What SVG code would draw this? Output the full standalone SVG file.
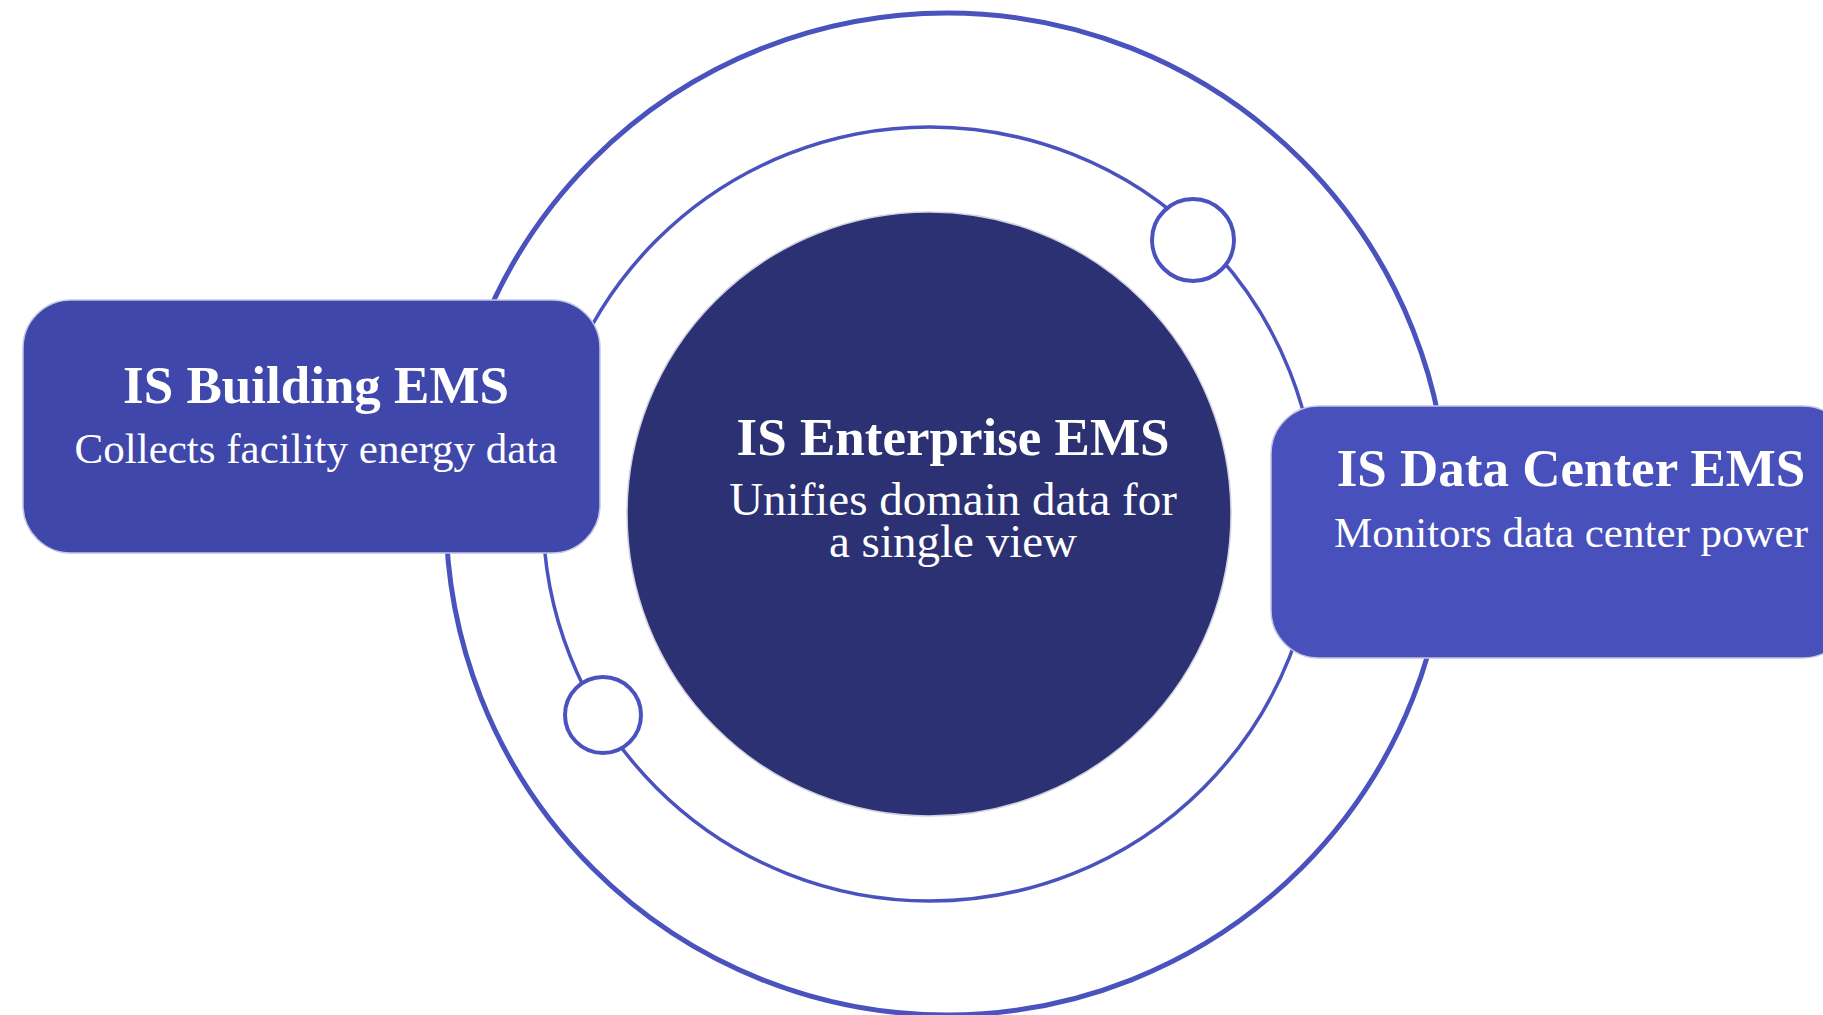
<svg xmlns="http://www.w3.org/2000/svg" width="1823" height="1015" viewBox="0 0 1823 1015">
<style>
.ring{fill:none;stroke:#4A52BE}
.dot{fill:#FFFFFF;stroke:#4A52BE;stroke-width:4}
.box{stroke:#C3C5E4;stroke-width:1.5}
.t{font-family:"Liberation Serif","Times New Roman",serif;fill:#FFFFFF;text-anchor:middle}
.h{font-weight:bold;font-size:53px}
.s{font-size:43px}
</style>
<rect width="1823" height="1015" fill="#FFFFFF"/>
<g id="connectors">
<circle class="ring" cx="947" cy="514" r="501" stroke-width="5"/>
<circle class="ring" cx="930" cy="514" r="387" stroke-width="3.5"/>
</g>
<g id="enterprise">
<circle cx="929" cy="514" r="302" fill="#2C3173" stroke="#D0D1E0" stroke-width="1.5"/>
<text class="t h" x="953" y="455">IS Enterprise EMS</text>
<text class="t s" x="953" y="515" style="font-size:47px">Unifies domain data for</text>
<text class="t s" x="953" y="557" style="font-size:47px">a single view</text>
</g>
<g id="dot1"><circle class="dot" cx="1193" cy="240" r="41"/></g>
<g id="dot2"><circle class="dot" cx="603" cy="715" r="38"/></g>
<g id="building">
<rect class="box" x="23" y="300" width="577" height="253" rx="48" fill="#3F48AA"/>
<text class="t h" x="316" y="403">IS Building EMS</text>
<text class="t s" x="316" y="463">Collects facility energy data</text>
</g>
<g id="datacenter">
<rect class="box" x="1271" y="406" width="580" height="252" rx="48" fill="#4750BB"/>
<text class="t h" x="1571" y="486">IS Data Center EMS</text>
<text class="t s" x="1571" y="547">Monitors data center power</text>
</g>
</svg>
